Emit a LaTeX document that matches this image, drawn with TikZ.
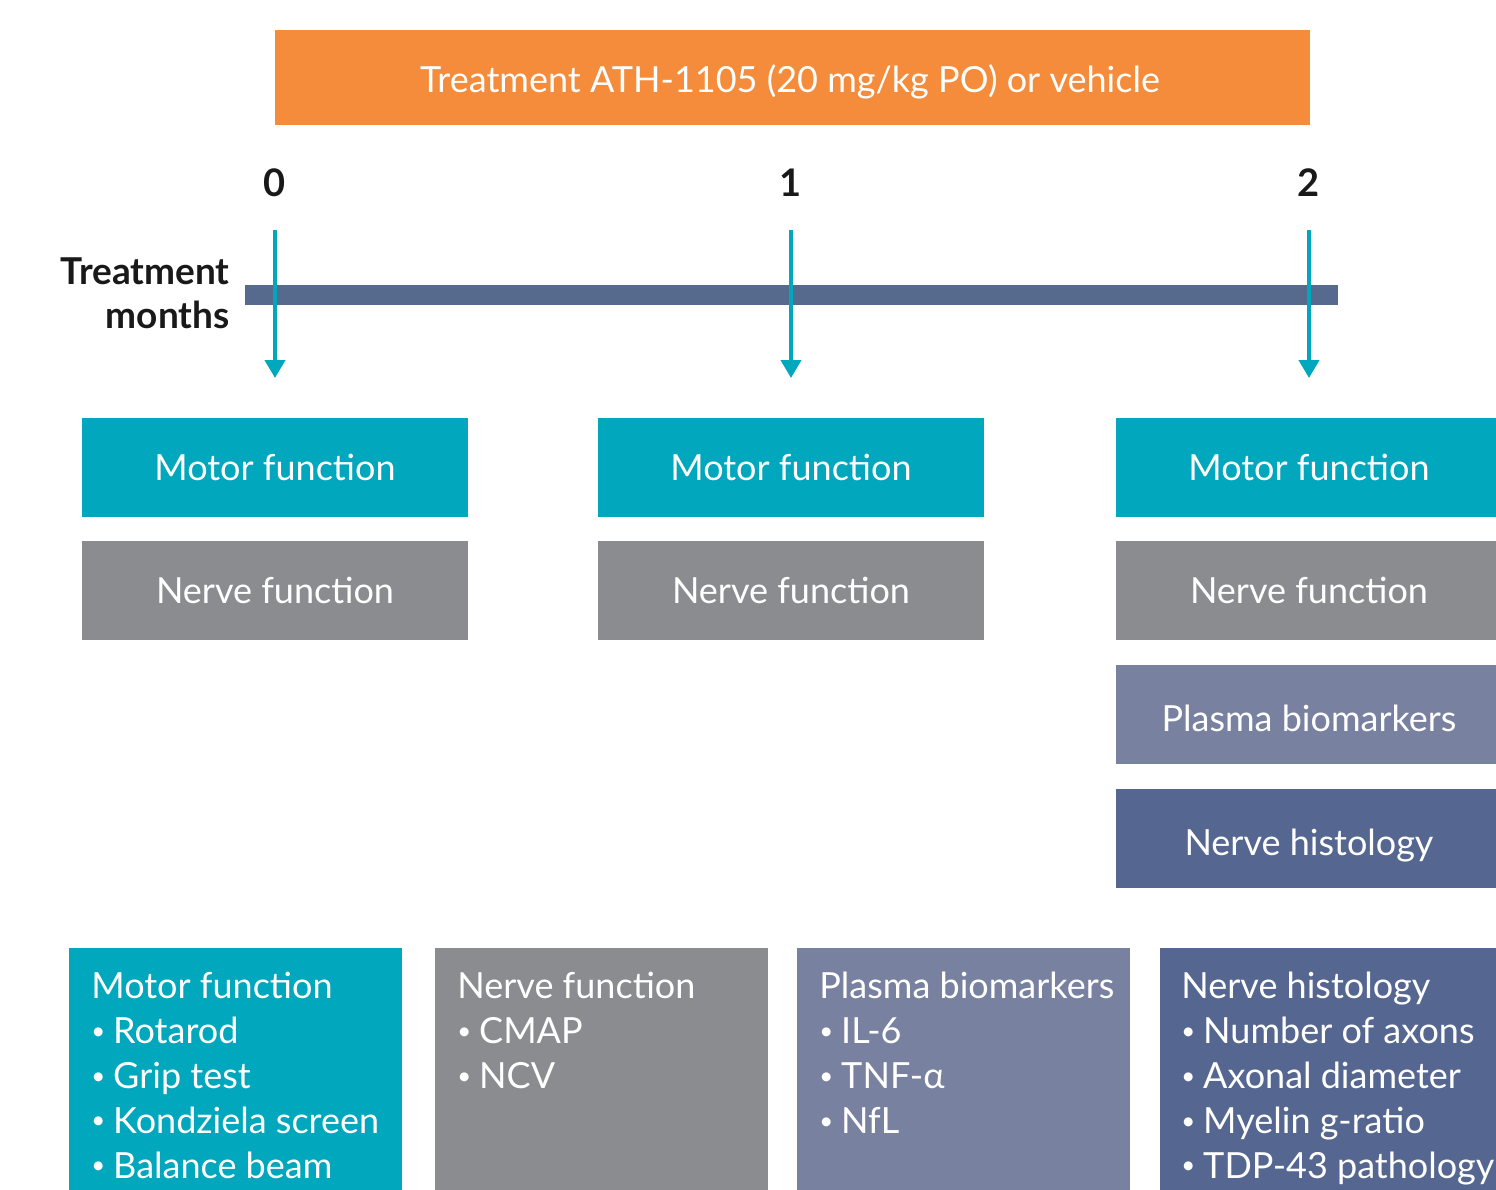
\documentclass[tikz,border=0pt]{standalone}
\usepackage{fontspec}
\setmainfont{Lato}
\usepackage{tikz}
\usetikzlibrary{arrows.meta, positioning}

\definecolor{athorange}{HTML}{F48C3B}
\definecolor{motteal}{HTML}{00A7BD}
\definecolor{nervegray}{HTML}{8B8C8F}
\definecolor{plasmablue}{HTML}{7881A0}
\definecolor{histblue}{HTML}{556791}
\definecolor{barblue}{HTML}{566A8D}

\newcommand{\itm}{\raisebox{0.12em}{\fontsize{12}{12}\selectfont•}\hspace{0.22em}}

\begin{document}
\begin{tikzpicture}[x=0.5pt, y=-0.5pt,
    boxfont/.style={font=\fontsize{18}{22.4}\selectfont},
    stepbox/.style={boxfont, text=white, inner sep=0pt, minimum width=193pt, minimum height=49.5pt,
      text height=12.8pt, text depth=0pt},
    steptext/.style={boxfont, text=white, inner sep=0pt, text height=12.8pt, text depth=0pt},
    listbox/.style={inner sep=0pt, anchor=north west, minimum width=166.5pt, minimum height=121pt},
    listtext/.style={boxfont, text=white, inner sep=0pt, anchor=north west, align=left},
    monthlbl/.style={font=\fontsize{19}{22}\selectfont\bfseries, text=black!90},
    tick/.style={motteal, line width=2pt, -{Triangle[width=10pt, length=9pt]}}
  ]
  \useasboundingbox (0,0) rectangle (1496,1190);

  % Treatment bar
  \node[stepbox, fill=athorange, minimum width=517.5pt, minimum height=47.5pt] (treat) at (792.5,77.5) {};
  \node[steptext] (treatt) at (790,80) {Treatment ATH-1105 (20 mg/kg PO) or vehicle};

  % Time line
  \node[monthlbl, font=\fontsize{18.5}{22}\selectfont\bfseries, anchor=east, align=right, inner sep=0pt]
    (axis) at (230,293) {Treatment\\months};
  \fill[barblue] (245,285) rectangle (1338,305);
  \foreach \x/\m in {275/0, 791/1, 1309/2} {
    \node[monthlbl] (m\m) at (\x,183) {\m};
    \coordinate (s\m) at (\x,230);
    \coordinate (e\m) at (\x,378);
  }
  \foreach \m in {0,1,2}
    \draw[tick] (s\m) -- (e\m);

  % Month 0
  \node[stepbox, fill=motteal] (mot0) at (275,467.5) {Motor function};
  \node[stepbox, fill=nervegray] (nrv0) at (275,590.5) {Nerve function};

  % Month 1
  \node[stepbox, fill=motteal] (mot1) at (791,467.5) {Motor function};
  \node[stepbox, fill=nervegray] (nrv1) at (791,590.5) {Nerve function};

  % Month 2
  \node[stepbox, fill=motteal, minimum width=190pt] (mot2) at (1306,467.5) {};
  \node[steptext] (mot2t) at (1309,467.5) {Motor function};
  \node[stepbox, fill=nervegray, minimum width=190pt] (nrv2) at (1306,590.5) {};
  \node[steptext] (nrv2t) at (1309,590.5) {Nerve function};
  \node[stepbox, fill=plasmablue, minimum width=190pt] (pls2) at (1306,714.5) {};
  \node[steptext] (pls2t) at (1309,719) {Plasma biomarkers};
  \node[stepbox, fill=histblue, minimum width=190pt] (hst2) at (1306,838.5) {};
  \node[steptext] (hst2t) at (1309,843) {Nerve histology};

  % Legend boxes
  \node[listbox, fill=motteal] (lmot) at (69,948) {};
  \node[listtext] (lmott) at (91,972)
    {Motor function\\\itm Rotarod\\\itm Grip test\\\itm Kondziela screen\\\itm Balance beam};
  \node[listbox, fill=nervegray] (lnrv) at (435,948) {};
  \node[listtext] (lnrvt) at (457,972)
    {Nerve function\\\itm CMAP\\\itm NCV};
  \node[listbox, fill=plasmablue] (lpls) at (797,948) {};
  \node[listtext] (lplst) at (819,972)
    {Plasma biomarkers\\\itm IL-6\\\itm TNF-α\\\itm NfL};
  \node[listbox, fill=histblue, minimum width=168pt] (lhst) at (1160,948) {};
  \node[listtext] (lhstt) at (1181,972)
    {Nerve histology\\\itm Number of axons\\\itm Axonal diameter\\\itm Myelin g-ratio\\\itm TDP-43 pathology};
\end{tikzpicture}
\end{document}
